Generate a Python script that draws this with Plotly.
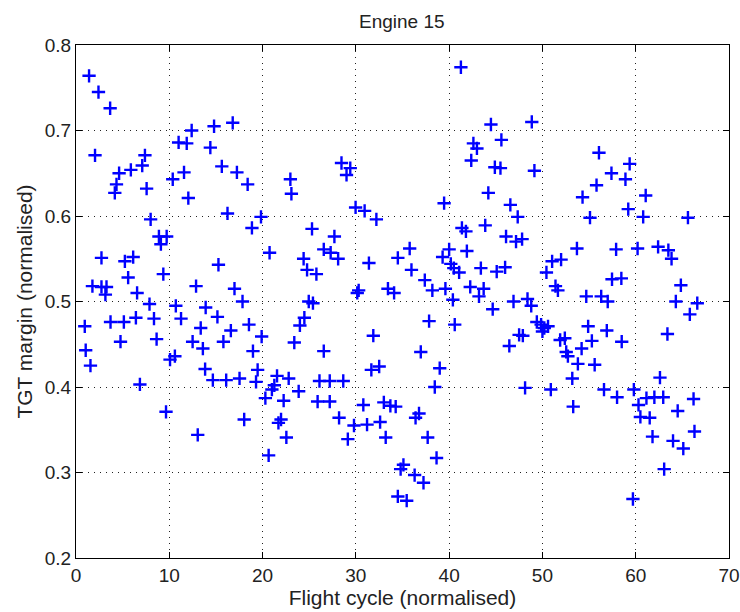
import plotly.graph_objects as go

title_text = "Engine 15"
x_label = "Flight cycle (normalised)"
y_label = "TGT margin (normalised)"
x_ticks = [0, 10, 20, 30, 40, 50, 60, 70]
y_ticks = [0.2, 0.3, 0.4, 0.5, 0.6, 0.7, 0.8]

flight_cycle = [
    1.40, 2.41, 3.66, 2.04, 4.62, 4.34, 4.16, 5.88, 7.39, 7.10, 7.57, 8.00, 8.89, 9.72, 9.10,
    2.73, 5.24, 6.13, 5.59, 9.36, 1.76, 2.73, 3.27, 3.15, 6.55, 7.88, 11.0, 11.87, 12.4, 14.8,
    16.8, 14.4, 10.37, 11.58, 12.04, 15.63, 17.25, 18.4, 22.98, 23.09, 16.24, 19.83, 18.86, 20.75, 15.27,
    12.87, 16.99, 17.85, 24.4, 10.7, 13.9,
    41.26, 44.48, 45.6, 42.6, 42.98, 42.37, 44.9, 45.5, 44.2, 39.46, 46.56, 47.35, 28.46, 29.4, 29.0,
    29.97, 30.94, 32.2, 25.3, 27.7, 26.56, 27.3, 28.1, 24.77, 25.77, 31.4, 34.5, 35.77, 35.96, 37.39,
    38.2, 39.6, 30.3, 30.15, 33.44, 34.1, 24.95, 25.4, 41.37, 41.8, 43.87, 46.1, 47.17, 40.0, 41.9,
    39.3, 40.18, 40.5, 41.07, 43.4, 45.1, 46.0, 42.26, 43.7, 40.4, 43.2, 46.9,
    48.86, 49.14, 56.06, 59.35, 57.4, 58.9, 55.8, 54.3, 61.07, 59.2, 60.8, 55.1, 65.6, 53.7, 57.9,
    60.2, 62.4, 63.5, 63.84, 51.04, 52.0, 50.43, 57.46, 58.46, 51.4, 51.66, 64.84, 54.7, 56.3, 57.0,
    64.3, 66.6, 48.4, 47.82,
    0.94, 3.7, 5.13, 6.42, 8.36, 4.77, 8.64, 1.04, 1.55, 6.85, 11.26, 10.08, 10.6, 9.65, 15.16,
    13.37, 12.5, 13.6, 16.6, 15.8, 18.54, 19.9, 18.97, 13.84, 14.67, 16.1, 17.53, 19.47, 19.3, 21.55,
    22.8, 21.26, 21.0, 20.3, 22.26, 21.98, 21.7, 22.55, 20.65, 18.03, 13.05, 24.0, 23.4, 23.87,
    24.48, 26.56, 26.1, 27.2, 28.65, 25.9, 27.2, 28.2, 29.8, 29.14, 31.87, 31.66, 32.5, 30.8, 31.2,
    32.6, 33.2, 33.0, 33.7, 34.27, 37.85, 36.96, 38.99, 38.46, 36.77, 36.4, 37.7, 38.65, 35.1, 34.8,
    36.3, 37.25, 34.5, 35.45, 40.6, 44.67, 46.45, 47.5,
    48.8, 47.9, 49.4, 49.86, 50.2, 50.0, 50.6, 48.14, 50.9, 51.9, 52.4, 52.55, 52.73, 54.2, 54.9,
    55.3, 56.9, 58.5, 53.8, 55.6, 53.2, 53.3, 56.6, 58.0, 59.8, 60.3, 60.5, 61.5, 61.15, 62.0,
    62.95, 62.6, 63.4, 64.5, 66.2, 66.3, 61.8, 64.0, 65.1, 63.05, 59.7, 65.8,
]

tgt_margin = [
    0.764, 0.745, 0.726, 0.671, 0.650, 0.637, 0.627, 0.654, 0.671, 0.659, 0.632, 0.596, 0.576, 0.576, 0.567,
    0.551, 0.547, 0.552, 0.528, 0.532, 0.518, 0.517, 0.517, 0.508, 0.510, 0.497, 0.686, 0.685, 0.700, 0.705,
    0.709, 0.680, 0.643, 0.651, 0.621, 0.658, 0.651, 0.637, 0.643, 0.626, 0.603, 0.599, 0.586, 0.557, 0.543,
    0.518, 0.515, 0.500, 0.550, 0.495, 0.493,
    0.774, 0.707, 0.689, 0.685, 0.679, 0.665, 0.657, 0.656, 0.627, 0.615, 0.613, 0.599, 0.662, 0.656, 0.648,
    0.610, 0.606, 0.596, 0.585, 0.576, 0.561, 0.557, 0.550, 0.537, 0.532, 0.545, 0.551, 0.562, 0.537, 0.525,
    0.513, 0.515, 0.513, 0.510, 0.515, 0.510, 0.500, 0.498, 0.586, 0.582, 0.589, 0.576, 0.570, 0.561, 0.559,
    0.552, 0.544, 0.539, 0.534, 0.539, 0.535, 0.540, 0.517, 0.515, 0.502, 0.506, 0.500,
    0.710, 0.653, 0.674, 0.661, 0.650, 0.643, 0.636, 0.622, 0.624, 0.608, 0.599, 0.598, 0.598, 0.562, 0.561,
    0.562, 0.564, 0.560, 0.550, 0.547, 0.549, 0.534, 0.526, 0.527, 0.518, 0.513, 0.519, 0.506, 0.506, 0.500,
    0.500, 0.498, 0.503, 0.573,
    0.471, 0.476, 0.476, 0.481, 0.480, 0.453, 0.456, 0.443, 0.425, 0.403, 0.480, 0.432, 0.436, 0.371, 0.482,
    0.469, 0.453, 0.445, 0.466, 0.453, 0.473, 0.459, 0.442, 0.421, 0.408, 0.408, 0.410, 0.420, 0.406, 0.413,
    0.410, 0.402, 0.397, 0.387, 0.384, 0.362, 0.358, 0.341, 0.320, 0.362, 0.344, 0.472, 0.452, 0.395,
    0.481, 0.442, 0.407, 0.407, 0.407, 0.383, 0.383, 0.364, 0.355, 0.339, 0.460, 0.420, 0.424, 0.379, 0.356,
    0.359, 0.341, 0.382, 0.378, 0.377, 0.477, 0.441, 0.422, 0.400, 0.369, 0.364, 0.341, 0.317, 0.309, 0.304,
    0.297, 0.288, 0.272, 0.267, 0.473, 0.491, 0.448, 0.461,
    0.495, 0.460, 0.476, 0.473, 0.469, 0.465, 0.471, 0.399, 0.397, 0.455, 0.457, 0.441, 0.436, 0.445, 0.471,
    0.454, 0.466, 0.453, 0.427, 0.426, 0.410, 0.377, 0.397, 0.388, 0.397, 0.379, 0.365, 0.364, 0.387, 0.388,
    0.388, 0.411, 0.462, 0.372, 0.386, 0.348, 0.342, 0.337, 0.328, 0.304, 0.269, 0.485,
]

fig = go.Figure()
fig.add_trace(go.Scatter(
    x=flight_cycle, y=tgt_margin, mode="markers",
    marker=dict(symbol="cross-thin", size=9.5, color="#0000ff",
                line=dict(color="#0000ff", width=2.4)),
    showlegend=False, hoverinfo="x+y",
))

font_family = "Liberation Sans, Arial, sans-serif"
axis_common = dict(
    showline=True, linecolor="black", linewidth=1, mirror="allticks",
    ticks="inside", ticklen=6, tickcolor="black", tickwidth=1,
    showgrid=True, gridcolor="#222222", griddash="1px,5px", gridwidth=1.2,
    zeroline=False, automargin=False,
    tickfont=dict(size=19, color="#222222", family=font_family),
)

fig.update_layout(
    width=740, height=612,
    margin=dict(l=76, r=11, t=45, b=54),
    paper_bgcolor="white", plot_bgcolor="white",
    title=dict(text=title_text, x=0.543, xanchor="center", xref="container",
               y=1 - 21 / 612, yanchor="middle", yref="container",
               font=dict(size=19, color="#222222", family=font_family)),
    xaxis=dict(range=[0, 70], tickvals=x_ticks,
               title=dict(text=x_label, font=dict(size=21, color="#222222", family=font_family), standoff=4),
               **axis_common),
    yaxis=dict(range=[0.2, 0.8], tickvals=y_ticks, tickformat=".1f",
               title=dict(text=y_label, font=dict(size=21, color="#222222", family=font_family), standoff=6),
               **axis_common),
)

fig.write_html("out.html", config={"displayModeBar": False},
               post_script="document.body.style.margin='0px';")
